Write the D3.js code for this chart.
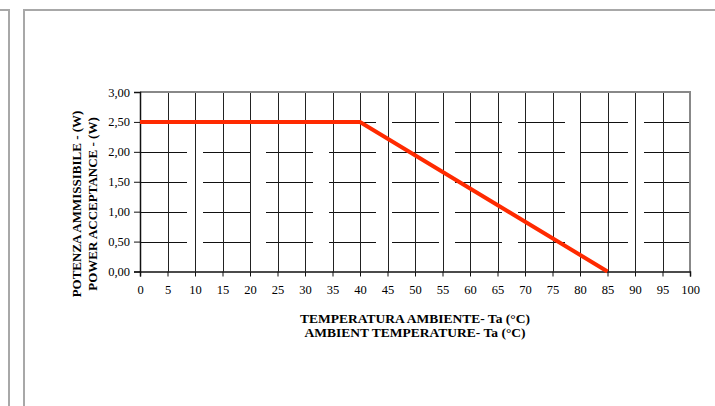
<!DOCTYPE html>
<html>
<head>
<meta charset="utf-8">
<script src="https://cdn.jsdelivr.net/npm/d3@7"></script>
<style>
  body { margin: 0; background: #fff; }
  svg { display: block; }
  text { font-family: "Liberation Serif", "Times New Roman", serif; fill: #000; }
</style>
</head>
<body>
<div id="chart"></div>
<script>
// derating curve
var temps = [0, 40, 85];
var power = [2.5, 2.5, 0];
var xTicks = d3.range(0, 101, 5);
var yTicks = [0, 0.5, 1, 1.5, 2, 2.5, 3];
var yTitle = ["POTENZA AMMISSIBILE - (W)", "POWER ACCEPTANCE - (W)"];
var xTitle = ["TEMPERATURA AMBIENTE- Ta (°C)", "AMBIENT TEMPERATURE- Ta (°C)"];

var W = 715, H = 406;
var pLeft = 140, pRight = 690, pTop = 92, pBottom = 271.5;

var svg = d3.select("#chart").append("svg")
    .attr("width", W)
    .attr("height", H);

// page frame lines
var frame = svg.append("g").attr("stroke", "#a8a8a8").attr("stroke-width", 2).attr("fill", "none");
frame.append("path").attr("d", "M0,10H9V406");
frame.append("path").attr("d", "M24,406V10H715");

var x = d3.scaleLinear().domain([0, 100]).range([pLeft, pRight]);
var y = d3.scaleLinear().domain([0, 3]).range([pBottom, pTop]);

// horizontal grid (broken like the scan)
svg.append("g")
    .selectAll("line")
    .data(yTicks.filter(function(d) { return d > 0 && d < 3; }))
    .enter()
    .append("line")
    .attr("x1", pLeft)
    .attr("x2", pRight)
    .attr("y1", function(d) { return Math.round(y(d)) + 0.5; })
    .attr("y2", function(d) { return Math.round(y(d)) + 0.5; })
    .attr("stroke", "#111")
    .attr("stroke-width", 1)
    .attr("stroke-dasharray", "47,16");

// vertical grid
svg.append("g")
    .selectAll("line")
    .data(xTicks.filter(function(d) { return d > 0 && d < 100; }))
    .enter()
    .append("line")
    .attr("x1", function(d) { return Math.round(x(d)) + 0.5; })
    .attr("x2", function(d) { return Math.round(x(d)) + 0.5; })
    .attr("y1", pTop)
    .attr("y2", pBottom)
    .attr("stroke", "#222")
    .attr("stroke-width", 1);

// top and right border (gray)
svg.append("path")
    .attr("d", "M" + pLeft + "," + pTop + "H" + pRight + "V" + pBottom)
    .attr("fill", "none")
    .attr("stroke", "#888")
    .attr("stroke-width", 2);

// axes
var yAxis = svg.append("g")
    .attr("transform", "translate(" + pLeft + ",0)")
    .call(d3.axisLeft(y).tickValues(yTicks).tickSize(6).tickPadding(4)
        .tickFormat(function(d) { return d3.format(".2f")(d).replace(".", ","); }));
var xAxis = svg.append("g")
    .attr("transform", "translate(0," + pBottom + ")")
    .call(d3.axisBottom(x).tickValues(xTicks).tickSize(5).tickPadding(9));

[yAxis, xAxis].forEach(function(a) {
    a.select(".domain").attr("stroke", "#111").attr("stroke-width", 1.5);
    a.selectAll(".tick line").attr("stroke", "#111");
    a.selectAll("text").attr("font-size", "12.5px")
        .attr("font-family", "'Liberation Serif', serif").attr("fill", "#000");
});

// curve
var line = d3.line()
    .x(function(d, i) { return x(temps[i]); })
    .y(function(d) { return y(d); });

svg.append("path")
    .datum(power)
    .attr("d", line)
    .attr("fill", "none")
    .attr("stroke", "#ff2a00")
    .attr("stroke-width", 4);

// axis titles
svg.selectAll(".xt")
    .data(xTitle)
    .enter()
    .append("text")
    .attr("class", "xt")
    .attr("x", (pLeft + pRight) / 2)
    .attr("y", function(d, i) { return 323 + i * 13.5; })
    .attr("text-anchor", "middle")
    .attr("font-weight", "bold")
    .attr("font-size", "13.5px")
    .text(function(d) { return d; });

svg.selectAll(".yt")
    .data(yTitle)
    .enter()
    .append("text")
    .attr("class", "yt")
    .attr("transform", function(d, i) { return "translate(" + (81 + i * 16) + ",204) rotate(-90)"; })
    .attr("text-anchor", "middle")
    .attr("font-weight", "bold")
    .attr("font-size", "13px")
    .text(function(d) { return d; });
</script>
</body>
</html>
